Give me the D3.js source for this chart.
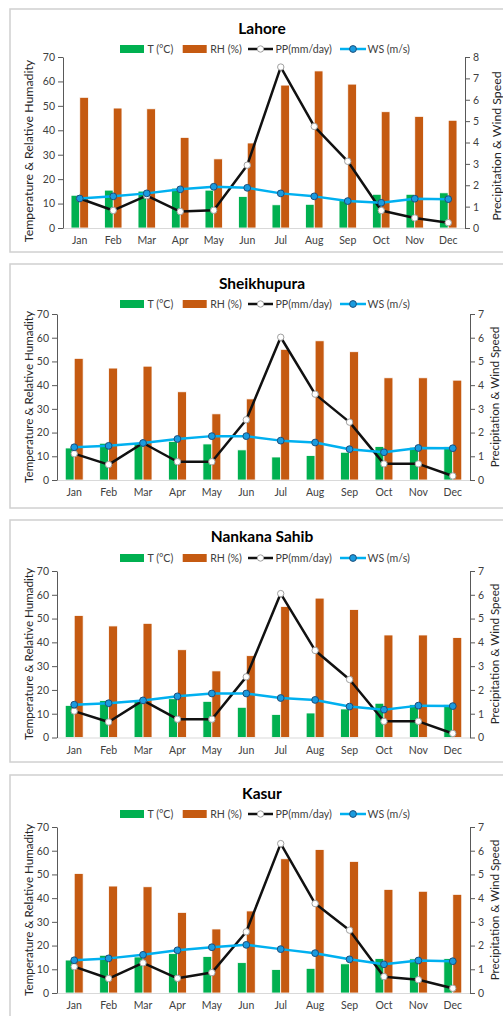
<!DOCTYPE html>
<html>
<head>
<meta charset="utf-8">
<script src="https://cdn.jsdelivr.net/npm/d3@7/dist/d3.min.js"></script>
<style>
  html, body { margin: 0; padding: 0; background: #fff; }
  svg { display: block; }
  text { font-family: Lato, "Open Sans", sans-serif; }
</style>
</head>
<body>
<svg id="chart" width="503" height="1016"></svg>
<script>
// ---------------- DATA ----------------
const months = ["Jan","Feb","Mar","Apr","May","Jun","Jul","Aug","Sep","Oct","Nov","Dec"];
const cities = ["Lahore","Sheikhupura","Nankana Sahib","Kasur"];
const seriesNames = ["T (°C)","RH (%)","PP(mm/day)","WS (m/s)"];
const leftTicks = [0,10,20,30,40,50,60,70];
const rightMaxes = [8,7,7,7];

const tLahore  = [13.4,15.5,15.1,16.3,15.5,12.9,9.5,9.7,11.2,13.8,13.8,14.4];
const rhLahore = [53.5,49.1,48.8,37.1,28.3,34.8,58.5,64.3,58.9,47.6,45.7,44.1];
const ppLahore = [1.38,0.82,1.51,0.77,0.83,2.94,7.53,4.75,3.12,0.82,0.47,0.25];
const wsLahore = [1.38,1.48,1.62,1.81,1.93,1.88,1.62,1.48,1.26,1.18,1.37,1.35];

const tSheikhupura  = [13.5,15.5,15.3,16.3,15.2,12.7,9.7,10.3,11.7,14.1,13.8,14.1];
const rhSheikhupura = [51.3,47.2,48.0,37.2,27.9,34.2,55.1,58.7,54.1,43.1,43.1,42.1];
const ppSheikhupura = [1.11,0.65,1.56,0.77,0.77,2.54,6.02,3.62,2.44,0.68,0.68,0.17];
const wsSheikhupura = [1.38,1.44,1.56,1.73,1.85,1.85,1.66,1.58,1.30,1.17,1.35,1.34];

const tNankana  = [13.5,15.5,15.3,16.3,15.2,12.7,9.7,10.3,12.0,14.4,13.8,13.8];
const rhNankana = [51.3,46.9,48.0,36.9,28.0,34.4,55.1,58.6,53.8,43.1,43.1,42.0];
const ppNankana = [1.11,0.65,1.56,0.77,0.77,2.55,6.05,3.66,2.44,0.68,0.68,0.17];
const wsNankana = [1.38,1.44,1.56,1.73,1.85,1.85,1.66,1.58,1.30,1.17,1.34,1.32];

const tKasur  = [13.9,15.9,15.2,16.6,15.4,12.8,9.9,10.4,12.3,14.5,14.4,14.5];
const rhKasur = [50.4,45.1,44.8,34.0,27.0,34.6,56.6,60.5,55.5,43.7,42.9,41.6];
const ppKasur = [1.11,0.61,1.27,0.62,0.86,2.58,6.30,3.77,2.65,0.69,0.56,0.20];
const wsKasur = [1.38,1.46,1.61,1.80,1.93,2.03,1.85,1.68,1.42,1.21,1.37,1.34];

const tempData = [tLahore, tSheikhupura, tNankana, tKasur];
const rhData   = [rhLahore, rhSheikhupura, rhNankana, rhKasur];
const ppData   = [ppLahore, ppSheikhupura, ppNankana, ppKasur];
const wsData   = [wsLahore, wsSheikhupura, wsNankana, wsKasur];

// ---------------- LAYOUT (positions only) ----------------
const layout = [
  {top: 9,   bottom: 252,  title: 28,  legend: 49,  pTop: 57,  pBottom: 228, left: 63, right: 465, lTitleX: 29, rTitleX: 497, lMid: 151, rMid: 146, axFont: 12.3},
  {top: 264, bottom: 508,  title: 283, legend: 304, pTop: 314, pBottom: 480, left: 57, right: 470, lTitleX: 28.5, rTitleX: 495, lMid: 397, rMid: 397, axFont: 11.6},
  {top: 520, bottom: 762,  title: 536, legend: 558, pTop: 571, pBottom: 737.5, left: 57, right: 470, lTitleX: 29, rTitleX: 494.5, lMid: 654, rMid: 654, axFont: 11.6},
  {top: 775, bottom: 1030, title: 793, legend: 814, pTop: 827, pBottom: 993, left: 57, right: 470, lTitleX: 29, rTitleX: 495, lMid: 910, rMid: 910, axFont: 11.6}
];
const legendX = [120, 182.7, 248, 340];

const C = {
  green: "#00B050", orange: "#C55A11", black: "#111111",
  ws: "#00B0F0", wsFill: "#1A9BDF", wsStroke: "#1F4E79",
  axis: "#595959", grid: "#D9D9D9", text: "#404040", border: "#D0D0D0"
};

const svg = d3.select("#chart");

cities.forEach((city, i) => {
  const L = layout[i];
  const g = svg.append("g");

  g.append("rect")
    .attr("x", 10).attr("y", L.top)
    .attr("width", 520).attr("height", L.bottom - L.top)
    .attr("fill", "#fff").attr("stroke", C.border).attr("stroke-width", 1.5);

  const x0 = d3.scaleBand().domain(months).range([L.left, L.right])
    .paddingInner(0.48).paddingOuter(0.24);
  const x1 = d3.scaleBand().domain(["T","RH"]).range([0, x0.bandwidth()]);
  const yL = d3.scaleLinear().domain([0, 70]).range([L.pBottom, L.pTop]);
  const yR = d3.scaleLinear().domain([0, rightMaxes[i]]).range([L.pBottom, L.pTop]);
  const xc = m => x0(m) + x0.bandwidth() / 2;

  g.append("text")
    .attr("x", 262).attr("y", L.title).attr("dy", "0.36em")
    .attr("text-anchor", "middle")
    .attr("font-size", 15.5).attr("font-weight", "bold").attr("fill", "#000")
    .text(city);

  const lg = g.append("g").attr("transform", `translate(0,${L.legend})`);
  [C.green, C.orange].forEach((col, k) => {
    lg.append("rect").attr("x", legendX[k]).attr("y", -4).attr("width", 24).attr("height", 8).attr("fill", col);
  });
  lg.append("line").attr("x1", legendX[2]).attr("x2", legendX[2] + 25).attr("y1", 0).attr("y2", 0)
    .attr("stroke", C.black).attr("stroke-width", 2.5);
  lg.append("circle").attr("cx", legendX[2] + 12.5).attr("cy", 0).attr("r", 3.2)
    .attr("fill", "#fff").attr("stroke", "#a0a0a0").attr("stroke-width", 1);
  lg.append("line").attr("x1", legendX[3]).attr("x2", legendX[3] + 26).attr("y1", 0).attr("y2", 0)
    .attr("stroke", C.ws).attr("stroke-width", 2.5);
  lg.append("circle").attr("cx", legendX[3] + 13).attr("cy", 0).attr("r", 3.4)
    .attr("fill", C.wsFill).attr("stroke", C.wsStroke).attr("stroke-width", 1);
  seriesNames.forEach((s, k) => {
    lg.append("text").attr("x", legendX[k] + 27.5).attr("y", 0).attr("dy", "0.35em")
      .attr("font-size", 10.6).attr("fill", C.text).text(s);
  });

  const barG = g.append("g");
  barG.selectAll("rect.t").data(months).join("rect")
    .attr("x", m => x0(m) + x1("T")).attr("width", x1.bandwidth())
    .attr("y", (m, j) => yL(tempData[i][j])).attr("height", (m, j) => L.pBottom - yL(tempData[i][j]))
    .attr("fill", C.green).attr("stroke", "#fff").attr("stroke-width", 0.8);
  barG.selectAll("rect.rh").data(months).join("rect")
    .attr("x", m => x0(m) + x1("RH")).attr("width", x1.bandwidth())
    .attr("y", (m, j) => yL(rhData[i][j])).attr("height", (m, j) => L.pBottom - yL(rhData[i][j]))
    .attr("fill", C.orange).attr("stroke", "#fff").attr("stroke-width", 0.8);

  const xAxis = g.append("g").attr("transform", `translate(0,${L.pBottom})`)
    .call(d3.axisBottom(x0).tickSize(0).tickPadding(9));
  xAxis.select(".domain").attr("stroke", C.grid).attr("stroke-width", 1.2);
  xAxis.selectAll("text").attr("font-size", 10.5).attr("fill", C.text).attr("font-family", "Lato");

  const yAxisL = g.append("g").attr("transform", `translate(${L.left},0)`)
    .call(d3.axisLeft(yL).tickValues(leftTicks).tickSize(5).tickPadding(3).tickSizeOuter(0));
  yAxisL.select(".domain").attr("stroke", C.axis).attr("stroke-width", 1);
  yAxisL.selectAll(".tick line").attr("stroke", C.axis);
  yAxisL.selectAll("text").attr("font-size", 10.5).attr("fill", C.text).attr("font-family", "Lato");

  const yAxisR = g.append("g").attr("transform", `translate(${L.right},0)`)
    .call(d3.axisRight(yR).ticks(rightMaxes[i]).tickSize(5).tickPadding(3).tickSizeOuter(0));
  yAxisR.select(".domain").attr("stroke", C.axis).attr("stroke-width", 1);
  yAxisR.selectAll(".tick line").attr("stroke", C.axis);
  yAxisR.selectAll("text").attr("font-size", 10.5).attr("fill", C.text).attr("font-family", "Lato");

  g.append("text").attr("transform", `translate(${L.lTitleX},${L.lMid}) rotate(-90)`)
    .attr("text-anchor", "middle").attr("dy", "0.35em")
    .attr("font-size", L.axFont).attr("fill", "#262626").text("Temperature & Relative Humadity");
  g.append("text").attr("transform", `translate(${L.rTitleX},${L.rMid}) rotate(-90)`)
    .attr("text-anchor", "middle").attr("dy", "0.35em")
    .attr("font-size", L.axFont).attr("fill", "#262626").text("Precipitation & Wind Speed");

  const lineGen = d3.line().x((d, j) => xc(months[j])).y(d => yR(d));
  g.append("path").datum(ppData[i]).attr("d", lineGen)
    .attr("fill", "none").attr("stroke", C.black).attr("stroke-width", 2.5).attr("stroke-linejoin", "round");
  g.selectAll("circle.pp").data(ppData[i]).join("circle")
    .attr("cx", (d, j) => xc(months[j])).attr("cy", d => yR(d)).attr("r", 3.2)
    .attr("fill", "#fff").attr("stroke", "#a0a0a0").attr("stroke-width", 1);

  g.append("path").datum(wsData[i]).attr("d", lineGen)
    .attr("fill", "none").attr("stroke", C.ws).attr("stroke-width", 2.5).attr("stroke-linejoin", "round");
  g.selectAll("circle.ws").data(wsData[i]).join("circle")
    .attr("cx", (d, j) => xc(months[j])).attr("cy", d => yR(d)).attr("r", 3.4)
    .attr("fill", C.wsFill).attr("stroke", C.wsStroke).attr("stroke-width", 1);
});
</script>
</body>
</html>
